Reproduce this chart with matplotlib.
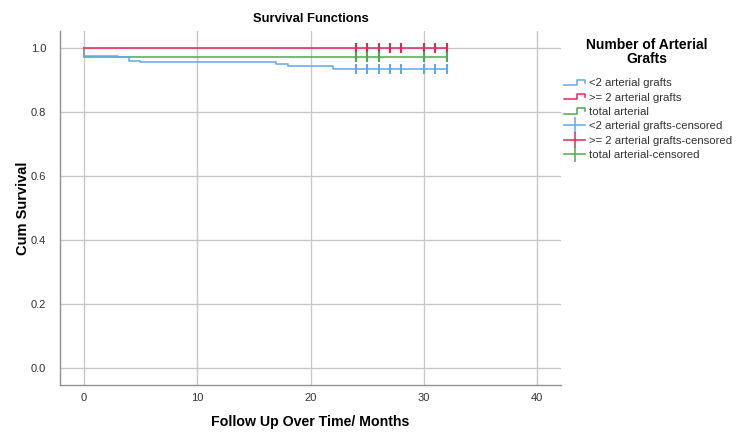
import matplotlib
matplotlib.use("Agg")
import matplotlib.pyplot as plt
from matplotlib.lines import Line2D
from matplotlib.legend_handler import HandlerBase

plt.rcParams['font.family'] = ['Liberation Sans', 'DejaVu Sans']

# ---- data ----
t_lt2 = [0, 0, 3, 4, 5, 17, 18, 22, 32]
s_lt2 = [1.0, 0.977, 0.973, 0.961, 0.956, 0.951, 0.943, 0.935, 0.935]
t_ge2 = [0, 32]
s_ge2 = [1.0, 1.0]
t_tot = [0, 0, 32]
s_tot = [1.0, 0.974, 0.974]

c_lt2 = [24, 25, 26, 27, 28, 30, 31, 32]
c_lt2_s = 0.935
c_ge2 = [24, 25, 26, 27, 28, 30, 31, 32]
c_ge2_s = 1.0
c_tot = [24, 25, 26, 30, 32]
c_tot_s = 0.974

labels = ["<2 arterial grafts", ">= 2 arterial grafts", "total arterial",
          "<2 arterial grafts-censored", ">= 2 arterial grafts-censored",
          "total arterial-censored"]
legend_title = "Number of Arterial\nGrafts"
xticks = [0, 10, 20, 30, 40]
yticks = [0.0, 0.2, 0.4, 0.6, 0.8, 1.0]

BLUE = "#5fa8f0"
RED = "#e8245a"
GREEN = "#4ea84e"
GRID = "#c8c8c8"

fig = plt.figure(figsize=(7.5, 4.42), dpi=100)
ax = fig.add_axes([0.08, 0.129, 0.668, 0.801])

for xt in xticks:
    ax.axvline(xt, color=GRID, lw=1.0, zorder=0)
for yt in yticks:
    ax.axhline(yt, color=GRID, lw=1.0, zorder=0)

ax.plot(t_lt2, s_lt2, drawstyle='steps-post', color=BLUE, lw=1.1, zorder=3)
ax.plot(t_tot, s_tot, drawstyle='steps-post', color=GREEN, lw=1.1, zorder=2)
ax.plot(t_ge2, s_ge2, drawstyle='steps-post', color=RED, lw=1.1, zorder=4)

ax.plot(c_lt2, [c_lt2_s] * len(c_lt2), ls='none', marker='|', ms=7, mew=1.5, color=BLUE, zorder=5)
ax.plot(c_ge2, [c_ge2_s] * len(c_ge2), ls='none', marker='|', ms=7, mew=1.5, color=RED, zorder=5)
ax.plot(c_tot, [c_tot_s] * len(c_tot), ls='none', marker='|', ms=7, mew=1.5, color=GREEN, zorder=5)

ax.set_xlim(-2.1, 42.1)
ax.set_ylim(-0.052, 1.054)
ax.set_xticks(xticks)
ax.set_yticks(yticks)
ax.set_yticklabels([f"{v:.1f}" for v in yticks])
ax.tick_params(length=0, labelsize=8, colors="#333333")
ax.tick_params(axis='y', pad=10)
ax.tick_params(axis='x', pad=6)
for s in ['top', 'right']:
    ax.spines[s].set_visible(False)
for s in ['left', 'bottom']:
    ax.spines[s].set_color("#909090")
    ax.spines[s].set_linewidth(1.0)

ax.set_xlabel("Follow Up Over Time/ Months", fontsize=10.2, fontweight='bold')
ax.xaxis.set_label_coords(0.5, -0.105)
ax.xaxis.label.set_va('center')
ax.set_ylabel("Cum Survival", fontsize=10.5, fontweight='bold')
ax.yaxis.set_label_coords(-0.074, 0.5)
ax.yaxis.label.set_va('center')
fig.text(0.414, 1 - 19 / 442, "Survival Functions", fontsize=9.4, fontweight='bold',
         ha='center', va='center')


class StepHandle:
    def __init__(self, color):
        self.color = color


class StepHandler(HandlerBase):
    def create_artists(self, legend, orig_handle, xdescent, ydescent, width, height, fontsize, trans):
        x0 = -xdescent
        y0 = -ydescent
        xs = [x0, x0 + 0.6 * width, x0 + 0.6 * width, x0 + width, x0 + width]
        ys = [y0 + 0.15 * height, y0 + 0.15 * height, y0 + 0.85 * height,
              y0 + 0.85 * height, y0 + 0.45 * height]
        ln = Line2D(xs, ys, color=orig_handle.color, lw=1.1, transform=trans)
        return [ln]


handles = [StepHandle(BLUE), StepHandle(RED), StepHandle(GREEN),
           Line2D([], [], color=BLUE, lw=1.1, marker='|', ms=11, mew=1.1),
           Line2D([], [], color=RED, lw=1.1, marker='|', ms=11, mew=1.1),
           Line2D([], [], color=GREEN, lw=1.1, marker='|', ms=11, mew=1.1)]

fig.text(0.863, 1 - 52 / 442, legend_title, fontsize=10, fontweight='bold',
         ha='center', va='center', multialignment='center', linespacing=1.05)

leg = fig.legend(handles, labels, loc='upper left', bbox_to_anchor=(0.738, 0.846),
                 frameon=False, fontsize=8.2,
                 handlelength=1.9, handletextpad=0.3, labelspacing=0.38,
                 handler_map={StepHandle: StepHandler()})
for txt in leg.get_texts():
    txt.set_color("#333333")

fig.savefig("out.png", dpi=100)
